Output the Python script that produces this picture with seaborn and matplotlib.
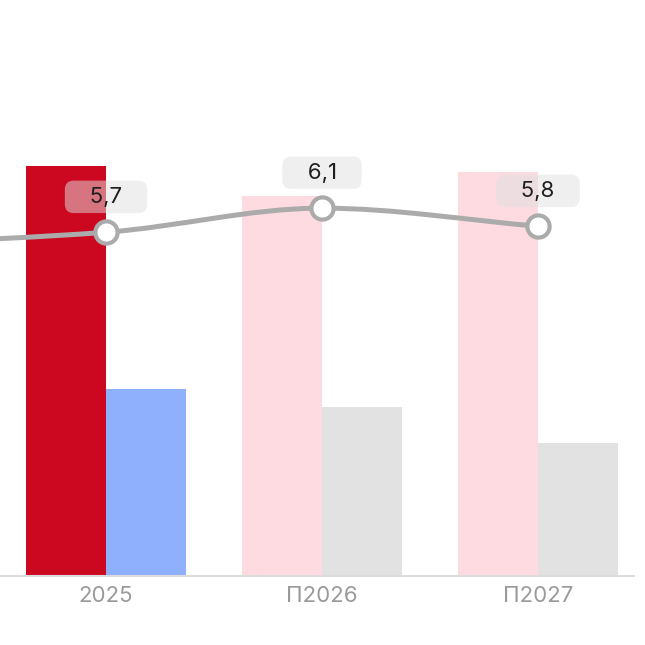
import numpy as np
import pandas as pd
import matplotlib
matplotlib.use("Agg")
import matplotlib.pyplot as plt
from matplotlib.path import Path
from matplotlib.patches import PathPatch
import seaborn as sns

# categories (2024 sits just left of the visible window, only its line point shows)
years = ["2024", "2025", "П2026", "П2027"]
line_vals = [5.5, 5.7, 6.1, 5.8]

bar_years = ["2025", "2025", "П2026", "П2026", "П2027", "П2027"]
bar_series = ["s1", "s2", "s1", "s2", "s1", "s2"]
bar_vals = [6.8, 3.1, 6.3, 2.8, 6.7, 2.2]
fact_years = ["2025"]

COL_FACT = {"s1": "#cc0820", "s2": "#8fb0fd"}
COL_FCST = {"s1": "#fddbe0", "s2": "#e2e2e2"}
COL_LINE = "#ababab"

sns.set_style("white")
plt.rcParams['font.family'] = ['Inter', 'DejaVu Sans']

df = pd.DataFrame({"year": bar_years, "series": bar_series, "value": bar_vals})
df_fact = df[df["year"].isin(fact_years)]
df_fcst = df[~df["year"].isin(fact_years)]

fig = plt.figure(figsize=(6.45, 6.45), dpi=100)
ax = fig.add_axes([0.0, 1 - 576 / 645, 634 / 645, 576 / 645])

for part, pal in [(df_fact, COL_FACT), (df_fcst, COL_FCST)]:
    sns.barplot(data=part, x="year", y="value", hue="series", order=years,
                hue_order=["s1", "s2"], palette=pal, width=0.74, saturation=1,
                linewidth=0, legend=False, ax=ax, zorder=2)

# smooth (monotone) line through the points
xs = np.arange(len(years), dtype=float)
ys = np.array(line_vals, dtype=float)
d = np.diff(ys)
m = np.zeros_like(ys)
m[0], m[-1] = d[0], d[-1]
for i in range(1, len(ys) - 1):
    if d[i - 1] * d[i] > 0:
        m[i] = 2 * d[i - 1] * d[i] / (d[i - 1] + d[i])
verts = [(xs[0], ys[0])]
codes = [Path.MOVETO]
for i in range(len(xs) - 1):
    h = xs[i + 1] - xs[i]
    verts += [(xs[i] + h / 3, ys[i] + m[i] * h / 3),
              (xs[i + 1] - h / 3, ys[i + 1] - m[i + 1] * h / 3),
              (xs[i + 1], ys[i + 1])]
    codes += [Path.CURVE4] * 3
ax.add_patch(PathPatch(Path(verts, codes), fill=False, edgecolor=COL_LINE,
                       lw=3.6, capstyle='round', zorder=3))

sns.scatterplot(x=xs, y=ys, ax=ax, s=16 ** 2, color="white", edgecolor=COL_LINE,
                linewidth=3, zorder=4, legend=False)

for x, v in zip(xs, line_vals):
    ax.annotate("   " + f"{v:.1f}".replace(".", ",") + "   ", (x, v),
                xytext=(0, 25.5), textcoords="offset points", ha="center", va="center",
                fontsize=16, color="#1e1e1e", zorder=5,
                bbox=dict(boxstyle="round,pad=0.28,rounding_size=0.4",
                          fc="#e0e0e0", ec="none", alpha=0.5))

ax.set_xlim(1 - 106 / 216, 1 + 528 / 216)
ax.set_ylim(0, 575 / 60.2)
ax.set_xlabel("")
ax.set_ylabel("")
ax.set_yticks([])
for s in ["left", "right", "top"]:
    ax.spines[s].set_visible(False)
ax.spines["bottom"].set_color("#dddddd")
ax.spines["bottom"].set_linewidth(1.5)
ax.tick_params(axis="x", length=0, pad=7, labelsize=16, labelcolor="#9a9a9a")

fig.savefig("out.png", dpi=100)
